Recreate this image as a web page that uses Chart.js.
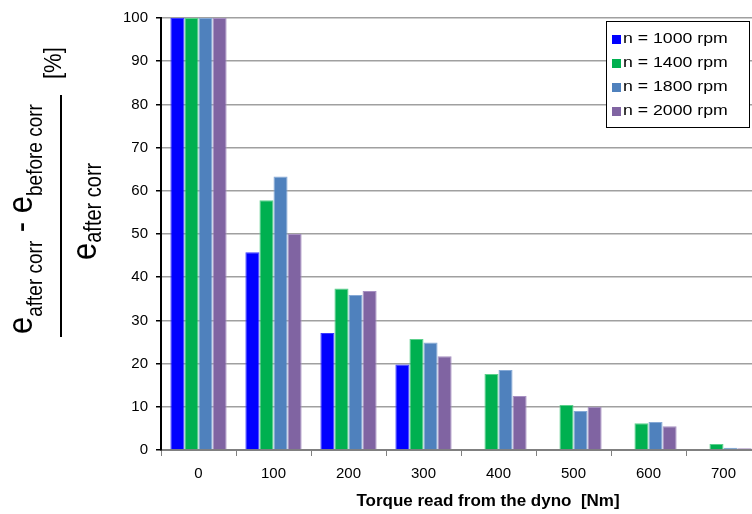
<!DOCTYPE html>
<html>
<head>
<meta charset="utf-8">
<script src="https://cdn.jsdelivr.net/npm/chart.js@4/dist/chart.umd.min.js"></script>
<style>
  html, body { margin: 0; padding: 0; background: #fff; overflow: hidden; }
  #wrap { width: 762px; height: 514px; }
</style>
</head>
<body>
<div id="wrap"><canvas id="chart" width="762" height="514"></canvas></div>
<script>
const torque = ['0', '100', '200', '300', '400', '500', '600', '700'];
const rpm1000 = [100, 45.8, 27.1, 19.8, 0, 0, 0, 0];
const rpm1400 = [100, 57.8, 37.4, 25.7, 17.6, 10.4, 6.2, 1.4];
const rpm1800 = [100, 63.3, 35.9, 24.9, 18.5, 9.0, 6.5, 0.5];
const rpm2000 = [100, 50.0, 36.8, 21.7, 12.5, 10.0, 5.5, 0.4];
const yTicks = [0, 10, 20, 30, 40, 50, 60, 70, 80, 90, 100];

const FONT = '"Liberation Sans", Arial, sans-serif';

// y axis title drawn as a fraction with subscripts, rotated
const fractionTitle = {
  id: 'fractionTitle',
  afterDraw(chart) {
    const ctx = chart.ctx;
    const drawRich = (parts, sx, sy, stretch) => {
      ctx.save();
      ctx.translate(sx, sy);
      ctx.rotate(-Math.PI / 2);
      ctx.scale(1, stretch);
      ctx.fillStyle = '#000';
      ctx.textBaseline = 'alphabetic';
      let x = 0;
      parts.forEach(p => {
        ctx.font = p.size + 'px ' + FONT;
        ctx.fillText(p.text, x, p.dy || 0);
        x += ctx.measureText(p.text).width;
      });
      ctx.restore();
    };
    drawRich([
      { text: 'e', size: 31 },
      { text: 'after corr', size: 19, dy: 9 },
      { text: ' - ', size: 31 },
      { text: 'e', size: 31 },
      { text: 'before corr', size: 19, dy: 9 }
    ], 32, 334, 1.15);
    drawRich([
      { text: 'e', size: 31 },
      { text: 'after corr', size: 20, dy: 4 },
    ], 96, 260, 1.15);
    drawRich([{ text: '[%]', size: 22 }], 61, 79, 1.05);

    ctx.save();
    ctx.strokeStyle = '#000';
    ctx.lineWidth = 2;
    ctx.beginPath();
    ctx.moveTo(61, 95);
    ctx.lineTo(61, 337);
    ctx.stroke();

    // x axis title
    ctx.font = 'bold 17px ' + FONT;
    ctx.textAlign = 'center';
    ctx.textBaseline = 'middle';
    ctx.fillText('Torque read from the dyno  [Nm]', 488, 501);
    ctx.restore();
  }
};

// legend box in the top right corner
const boxLegend = {
  id: 'boxLegend',
  afterDraw(chart) {
    const ctx = chart.ctx;
    ctx.save();
    ctx.fillStyle = '#fff';
    ctx.fillRect(606, 21, 143, 106);
    ctx.strokeStyle = '#000';
    ctx.lineWidth = 1;
    ctx.strokeRect(606.5, 21.5, 143, 106);
    ctx.textBaseline = 'middle';
    chart.data.datasets.forEach((ds, i) => {
      const y = 39 + i * 24;
      ctx.fillStyle = ds.backgroundColor;
      ctx.fillRect(612, y - 4, 9, 9);
      ctx.fillStyle = '#000';
      ctx.save();
      ctx.translate(623, y);
      ctx.scale(1.18, 1);
      ctx.font = '15px ' + FONT;
      ctx.fillText(ds.label, 0, 0);
      ctx.restore();
    });
    ctx.restore();
  }
};

new Chart(document.getElementById('chart'), {
  type: 'bar',
  data: {
    labels: torque,
    datasets: [
      { label: 'n = 1000 rpm', data: rpm1000, backgroundColor: '#0000ff', borderColor: '#3a3aff', borderWidth: 1 },
      { label: 'n = 1400 rpm', data: rpm1400, backgroundColor: '#00b050', borderColor: '#5cd08c', borderWidth: 1 },
      { label: 'n = 1800 rpm', data: rpm1800, backgroundColor: '#4f81bd', borderColor: '#86a9d6', borderWidth: 1 },
      { label: 'n = 2000 rpm', data: rpm2000, backgroundColor: '#8064a2', borderColor: '#a790c2', borderWidth: 1 }
    ]
  },
  options: {
    responsive: false,
    animation: false,
    layout: { padding: { top: 18, right: 1, left: 0, bottom: 0 } },
    datasets: { bar: { categoryPercentage: 0.75, barPercentage: 1.0 } },
    plugins: {
      legend: { display: false },
      tooltip: { enabled: false },
      title: { display: false }
    },
    scales: {
      x: {
        grid: { offset: true, drawOnChartArea: false, color: '#808080', tickColor: '#808080', tickLength: 6 },
        border: { color: '#808080', width: 2 },
        ticks: { color: '#000', font: { family: FONT, size: 15 }, padding: 9 },
        afterFit: s => { s.height = 64; }
      },
      y: {
        min: 0,
        max: 100,
        afterBuildTicks: s => { s.ticks = yTicks.map(v => ({ value: v })); },
        grid: { color: '#a0a0a0', lineWidth: 1.5, tickColor: '#000', tickLength: 5 },
        border: { color: '#000', width: 2 },
        ticks: { color: '#000', font: { family: FONT, size: 15 }, padding: 8 },
        afterFit: s => { s.width = 161; }
      }
    }
  },
  plugins: [fractionTitle, boxLegend]
});
</script>
</body>
</html>
